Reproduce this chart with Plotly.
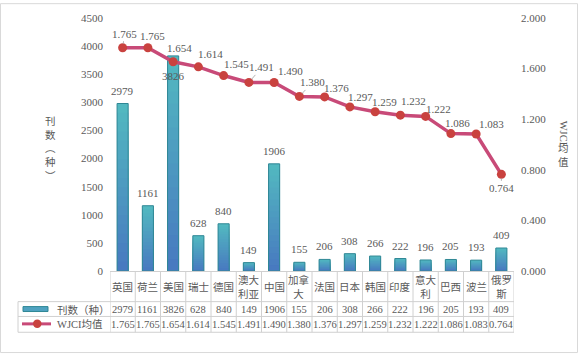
import plotly.graph_objects as go

# ---------------- data ----------------
categories = ["英国", "荷兰", "美国", "瑞士", "德国", "澳大利亚", "中国", "加拿大",
              "法国", "日本", "韩国", "印度", "意大利", "巴西", "波兰", "俄罗斯"]
category_labels = ["英国", "荷兰", "美国", "瑞士", "德国", "澳大<br>利亚", "中国", "加拿<br>大",
                   "法国", "日本", "韩国", "印度", "意大<br>利", "巴西", "波兰", "俄罗<br>斯"]
journals = [2979, 1161, 3826, 628, 840, 149, 1906, 155, 206, 308, 266, 222, 196, 205, 193, 409]
wjci = [1.765, 1.765, 1.654, 1.614, 1.545, 1.491, 1.490, 1.380, 1.376, 1.297,
        1.259, 1.232, 1.222, 1.086, 1.083, 0.764]
series_names = ["刊数（种）", "WJCI均值"]
left_ticks = [0, 500, 1000, 1500, 2000, 2500, 3000, 3500, 4000, 4500]
right_ticks = [0.0, 0.4, 0.8, 1.2, 1.6, 2.0]

# ---------------- style ----------------
W, H = 578, 354
L, R, T, B = 110, 64, 15, 83
PW, PH = W - L - R, H - T - B
TXT = "#595959"
GRID = "#d0d0d0"
SERIF = "Liberation Serif, Noto Sans CJK SC"
CJK = "Noto Sans CJK SC, Liberation Serif"
BAR_TOP = (82, 184, 192)
BAR_BOT = (72, 122, 192)
BAR_EDGE = "#2f8795"
LINE_C = "#c84a78"
MARK_C = "#c9423f"
BAR_W = 0.44


def px(x):
    return (x - L) / PW


def py(y):
    return (H - B - y) / PH


def mix(a, b, t):
    return "rgb(%d,%d,%d)" % tuple(round(a[i] + (b[i] - a[i]) * t) for i in range(3))


fig = go.Figure()

# gradient bars (layered, derived from the data)
N = 18
for k in range(N):
    f = 1 - k / N
    fig.add_trace(go.Bar(x=categories, y=[v * f for v in journals], width=BAR_W,
                         marker=dict(color=mix(BAR_TOP, BAR_BOT, k / (N - 1)), line=dict(width=0)),
                         hoverinfo="skip", showlegend=False))
# outline
fig.add_trace(go.Bar(x=categories, y=journals, width=BAR_W, name=series_names[0],
                     marker=dict(color="rgba(0,0,0,0)", line=dict(color=BAR_EDGE, width=1)),
                     showlegend=False))
# line
fig.add_trace(go.Scatter(x=categories, y=wjci, yaxis="y2", mode="lines+markers", name=series_names[1],
                         line=dict(color=LINE_C, width=3.5),
                         marker=dict(color=MARK_C, size=9), showlegend=False))

ann = []
# bar value labels
bar_shift = [13] * len(journals)
bar_shift[2] = -20
for c, v, s in zip(categories, journals, bar_shift):
    ann.append(dict(x=c, y=v, xref="x", yref="y", text=str(v), showarrow=False,
                    yshift=s, yanchor="middle", font=dict(family=SERIF, size=11, color=TXT)))

# line value labels
offs = [(2, -14), (5, -12), (6, -14), (12, -13), (13, -12), (13, -15), (16, -12), (13, -14),
        (12, -9), (11, -10), (9, -10), (13, -14), (13, -7), (7, -11), (15, -10), (0, 14)]
arrow_idx = {0, 5, 7, 15}
for i, (c, w) in enumerate(zip(categories, wjci)):
    dx, dy = offs[i]
    if i in arrow_idx:
        ann.append(dict(x=c, y=w, xref="x", yref="y2", text=f"{w:.3f}", showarrow=True,
                        arrowhead=0, arrowwidth=0.8, arrowcolor="#a0a0a0", standoff=4,
                        ax=dx, ay=dy, font=dict(family=SERIF, size=11, color=TXT)))
    else:
        ann.append(dict(x=c, y=w, xref="x", yref="y2", text=f"{w:.3f}", showarrow=False,
                        xshift=dx, yshift=-dy, font=dict(family=SERIF, size=11, color=TXT)))

# data table texts
for c, lab, v, w in zip(categories, category_labels, journals, wjci):
    ann.append(dict(x=c, y=py(287), xref="x", yref="paper", text=lab, showarrow=False,
                    yanchor="middle", font=dict(family=CJK, size=10.5, color=TXT)))
    ann.append(dict(x=c, y=py(309.5), xref="x", yref="paper", text=str(v), showarrow=False,
                    yanchor="middle", font=dict(family=SERIF, size=10.5, color=TXT)))
    ann.append(dict(x=c, y=py(325), xref="x", yref="paper", text=f"{w:.3f}", showarrow=False,
                    yanchor="middle", font=dict(family=SERIF, size=10.5, color=TXT)))

# legend column texts
ann.append(dict(x=px(55), y=py(309.5), xref="paper", yref="paper", text=series_names[0],
                showarrow=False, xanchor="left", yanchor="middle",
                font=dict(family=CJK, size=10.5, color=TXT)))
ann.append(dict(x=px(55), y=py(325), xref="paper", yref="paper", text=series_names[1],
                showarrow=False, xanchor="left", yanchor="middle",
                font=dict(family=SERIF, size=10.5, color=TXT)))

# axis titles
ann.append(dict(x=px(50), y=py(147), xref="paper", yref="paper", text="刊<br>数<br>︵<br>种<br>︶",
                showarrow=False, xanchor="center", yanchor="middle",
                font=dict(family=CJK, size=10.5, color=TXT)))
ann.append(dict(x=px(563), y=py(131), xref="paper", yref="paper", text="WJCI", textangle=90,
                showarrow=False, xanchor="center", yanchor="middle",
                font=dict(family=SERIF, size=10.5, color=TXT)))
ann.append(dict(x=px(563), y=py(153), xref="paper", yref="paper", text="均<br>值",
                showarrow=False, xanchor="center", yanchor="middle",
                font=dict(family=CJK, size=10.5, color=TXT)))

shapes = []
lc = dict(color=GRID, width=1)
# table vertical lines
for i in range(len(categories) + 1):
    shapes.append(dict(type="line", xref="x", yref="paper", x0=i - 0.5, x1=i - 0.5,
                       y0=py(272), y1=py(333), line=lc))
shapes.append(dict(type="line", xref="paper", yref="paper", x0=px(18), x1=px(18),
                   y0=py(302), y1=py(333), line=lc))
for yy in (302, 317, 333):
    shapes.append(dict(type="line", xref="paper", yref="paper", x0=px(18), x1=1,
                       y0=py(yy), y1=py(yy), line=lc))
shapes.append(dict(type="line", xref="paper", yref="paper", x0=0, x1=1,
                   y0=py(271.5), y1=py(271.5), line=lc))
# legend icons
shapes.append(dict(type="rect", xref="paper", yref="paper", x0=px(23), x1=px(48),
                   y0=py(312), y1=py(307), fillcolor="#4fa2c0", line=dict(color=BAR_EDGE, width=1)))
shapes.append(dict(type="line", xref="paper", yref="paper", x0=px(22), x1=px(51),
                   y0=py(324.5), y1=py(324.5), line=dict(color=LINE_C, width=3)))
shapes.append(dict(type="circle", xref="paper", yref="paper", x0=px(33), x1=px(41.5),
                   y0=py(328.7), y1=py(320.2), fillcolor=MARK_C, line=dict(color=MARK_C, width=0)))
# outer border
shapes.append(dict(type="rect", xref="paper", yref="paper", x0=px(0.5), x1=px(577.5),
                   y0=py(353.5), y1=py(0.5), line=dict(color="#d9d9d9", width=1)))

fig.update_layout(
    width=W, height=H,
    margin=dict(l=L, r=R, t=T, b=B, pad=0),
    paper_bgcolor="white", plot_bgcolor="white",
    barmode="overlay", showlegend=False,
    xaxis=dict(type="category", range=[-0.5, len(categories) - 0.5], showticklabels=False,
               showgrid=False, zeroline=False, showline=False, ticks=""),
    yaxis=dict(range=[0, 4500], tickvals=left_ticks, showgrid=False, zeroline=False,
               showline=False, ticks="", ticklabelstandoff=6,
               tickfont=dict(family=SERIF, size=11, color=TXT)),
    yaxis2=dict(range=[0, 2.0], tickvals=right_ticks, tickformat=".3f", overlaying="y",
                side="right", showgrid=False, zeroline=False, showline=False, ticks="",
                ticklabelstandoff=6, tickfont=dict(family=SERIF, size=11, color=TXT)),
    annotations=ann, shapes=shapes,
)

fig.write_html("out.html")
